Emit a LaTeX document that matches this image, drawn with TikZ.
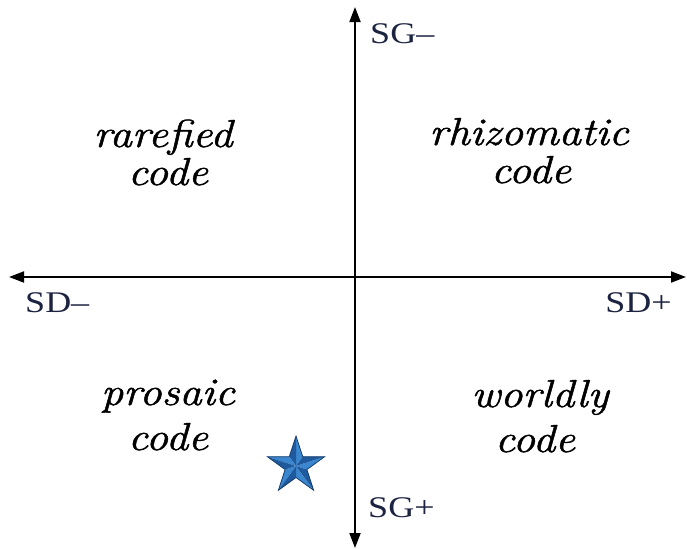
\documentclass[tikz,border=0pt]{standalone}
\usepackage{fontspec}
\setmainfont{Liberation Serif}
\newfontfamily\quadfont{Latin Modern Roman}[FakeBold=1.2]
\usetikzlibrary{arrows.meta,shapes.geometric,calc}
\definecolor{labc}{HTML}{1C2340}
\definecolor{starlight}{HTML}{3A86CF}
\definecolor{stardark}{HTML}{1F5A9E}
\definecolor{staredge}{HTML}{163E6E}
\tikzset{
  axis/.style={line width=1.8pt,-{Triangle[length=15pt,width=11pt]}},
  quad/.style={font=\quadfont\fontsize{39}{40}\selectfont\itshape, xscale=1.14, anchor=base, inner sep=0pt},
  axlab/.style={font=\fontsize{30}{32}\selectfont, xscale=1.2, text=labc, anchor=base west, inner sep=0pt},
}
\begin{document}
\begin{tikzpicture}[x=1pt,y=-1pt]
\useasboundingbox (0,0) rectangle (687,549);
% axes
\coordinate (top) at (355,7);
\coordinate (bot) at (355,548);
\coordinate (lft) at (9,277);
\coordinate (rgt) at (686,277);
\coordinate (o) at (355,277);
\draw[axis] (o) -- (top);
\draw[axis] (o) -- (bot);
\draw[axis] (o) -- (lft);
\draw[axis] (o) -- (rgt);
% axis labels
\node[axlab] (sgm) at (370,43) {SG–};
\node[axlab] (sgp) at (368,517) {SG+};
\node[axlab] (sdm) at (25,312) {SD–};
\node[axlab] (sdp) at (605,312) {SD+};
% quadrant labels
\node[quad] (rar1) at (163,147) {rarefied};
\node[quad] (rar2) at (168,185) {code};
\node[quad] (rhi1) at (529,145) {rhizomatic};
\node[quad] (rhi2) at (531,183) {code};
\node[quad] (pro1) at (168,405) {prosaic};
\node[quad] (pro2) at (168,450) {code};
\node[quad] (wor1) at (540,407) {worldly};
\node[quad] (wor2) at (535,452) {code};
% star
\coordinate (sc) at (296,466);
\foreach \i in {0,...,4}{
  \pgfmathsetmacro{\a}{-90+72*\i}
  \fill[starlight] (sc) -- ($(sc)+(\a:30)$) -- ($(sc)+(\a+36:11.5)$) -- cycle;
  \fill[stardark] (sc) -- ($(sc)+(\a:30)$) -- ($(sc)+(\a-36:11.5)$) -- cycle;
}
\node[star, star points=5, star point ratio=2.618, minimum size=60pt, inner sep=0pt, draw=staredge, line width=0.8pt] (st) at (sc) {};
\end{tikzpicture}
\end{document}
